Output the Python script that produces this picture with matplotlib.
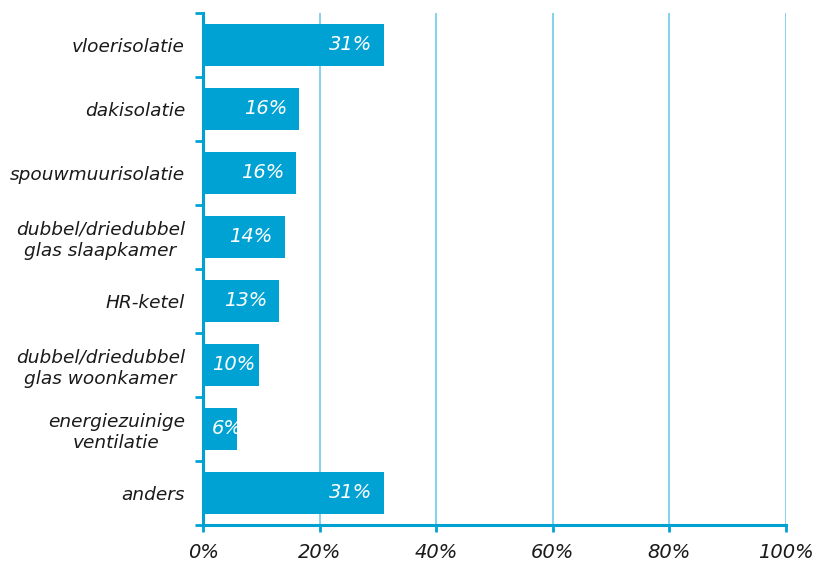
import numpy as np
import matplotlib
matplotlib.use("Agg")
import matplotlib.pyplot as plt
from matplotlib.ticker import FixedLocator, FuncFormatter

categories = [
    "vloerisolatie",
    "dakisolatie",
    "spouwmuurisolatie",
    "dubbel/driedubbel\nglas slaapkamer",
    "HR-ketel",
    "dubbel/driedubbel\nglas woonkamer",
    "energiezuinige\nventilatie",
    "anders",
]
values = [31, 16.5, 16, 14, 13, 9.6, 5.8, 31]
labels = ["31%", "16%", "16%", "14%", "13%", "10%", "6%", "31%"]
xticks = [0, 20, 40, 60, 80, 100]

BAR = "#00a2d3"
GRID = "#6ecbe8"
TEXT = "#1a1a1a"

plt.rcParams["font.family"] = ["DejaVu Sans"]

fig = plt.figure(figsize=(8.16, 5.65), dpi=100)
ax = fig.add_axes([0.2488, 0.0708, 0.7144, 0.9062])

y = np.arange(len(categories))
ax.barh(y, values, height=0.66, color=BAR, zorder=3)

ax.set_xlim(0, 100)
ax.set_ylim(len(categories) - 0.5, -0.5)

# value labels inside the bar end; if they don't fit, start them near the axis
fig.canvas.draw()
renderer = fig.canvas.get_renderer()
x0 = ax.transData.transform((0, 0))[0]
for yi, v, lab in zip(y, values, labels):
    t = ax.annotate(lab, (v, yi), xytext=(-12, 0), textcoords="offset pixels",
                    ha="right", va="center", color="white", fontsize=14,
                    style="italic", zorder=4)
    bb = t.get_window_extent(renderer)
    if bb.x0 < x0 + 9:
        t.set_position((x0 + 9 + bb.width - ax.transData.transform((v, 0))[0], 0))

ax.set_yticks(y)
ax.set_yticklabels(categories, style="italic", fontsize=13.3, color=TEXT,
                   linespacing=1.25, multialignment="center")
ax.yaxis.set_minor_locator(FixedLocator(np.arange(-0.5, len(categories), 1)))
ax.tick_params(axis="y", which="major", length=0, pad=13)
ax.tick_params(axis="y", which="minor", length=6, width=2, color=BAR,
               direction="out")

ax.set_xticks(xticks)
ax.xaxis.set_major_formatter(FuncFormatter(lambda v, p: f"{v:.0f}%"))
ax.tick_params(axis="x", length=5, width=2, color=BAR, pad=8,
               labelsize=14, labelcolor=TEXT)
for t in ax.get_xticklabels():
    t.set_style("italic")

ax.grid(axis="x", color=GRID, linewidth=1.2, zorder=0)
ax.set_axisbelow(True)

for s in ("top", "right"):
    ax.spines[s].set_visible(False)
for s in ("left", "bottom"):
    ax.spines[s].set_color(BAR)
    ax.spines[s].set_linewidth(2.2)

fig.savefig("out.png", dpi=100)
